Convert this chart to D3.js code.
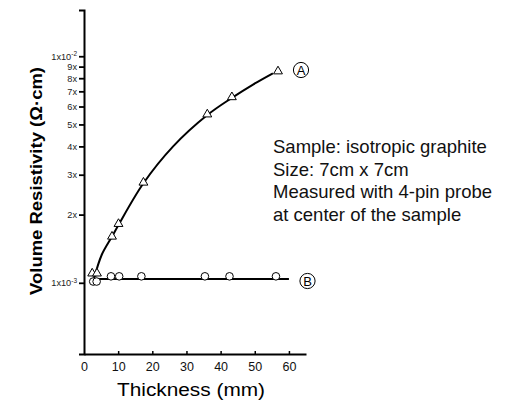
<!DOCTYPE html>
<html>
<head>
<meta charset="utf-8">
<script src="https://cdn.jsdelivr.net/npm/d3@7"></script>
<style>
  body { margin: 0; background: #fff; }
  svg { display: block; font-family: "Liberation Sans", Arial, sans-serif; }
</style>
</head>
<body>
<div id="chart"></div>
<script>
// thickness (mm) and volume resistivity (ohm.cm)
const thickA = [2.4, 3.8, 8.2, 10.1, 17.4, 36.1, 43.3, 56.8];
const resA = [1.1e-3, 1.1e-3, 1.6e-3, 1.82e-3, 2.77e-3, 5.54e-3, 6.6e-3, 8.58e-3];

const thickB = [2.7, 3.7, 7.9, 10.3, 16.8, 35.4, 42.6, 56.2];
const resB = [1.013e-3, 1.013e-3, 1.068e-3, 1.068e-3, 1.068e-3, 1.068e-3, 1.068e-3, 1.068e-3];

// fitted curves drawn in the picture
const fitAx = [2.9, 5.2, 8.2, 10.1, 17.4, 26.1, 36.1, 43.3, 49.6, 55.3];
const fitAy = [1.04e-3, 1.33e-3, 1.6e-3, 1.8e-3, 2.75e-3, 4.0e-3, 5.5e-3, 6.55e-3, 7.52e-3, 8.41e-3];
const fitBx = [3.2, 60];
const fitBy = [1.04e-3, 1.04e-3];

const xTicks = [0, 10, 20, 30, 40, 50, 60];
const yTicks = [1e-3, 2e-3, 3e-3, 4e-3, 5e-3, 6e-3, 7e-3, 8e-3, 9e-3, 1e-2];
const yTickLabels = ["1x10|-3", "2x", "3x", "4x", "5x", "6x", "7x", "8x", "9x", "1x10|-2"];

const notes = ["Sample: isotropic graphite", "Size: 7cm x 7cm",
    "Measured with 4-pin probe", "at center of the sample"];

const width = 513, height = 405;

const svg = d3.select("#chart").append("svg")
    .attr("width", width)
    .attr("height", height);

const x = d3.scaleLinear().domain([0, 65]).range([84, 306]);
const y = d3.scaleLog().domain([4.85e-4, 1.6e-2]).range([354, 10]);

// axes
const xAxis = svg.append("g")
    .attr("transform", `translate(0, ${y.range()[0]})`)
    .call(d3.axisBottom(x).tickValues(xTicks).tickSize(0).tickPadding(8).tickFormat(d3.format("d")));
xAxis.select(".domain").attr("stroke", "#000").attr("stroke-width", 2);
xAxis.selectAll("text").attr("font-size", 12.5).attr("fill", "#111")
    .attr("font-family", "Liberation Sans, Arial, sans-serif");
// small inward ticks
xAxis.selectAll(".tick").filter(d => d > 0).append("line")
    .attr("y1", 0).attr("y2", -3).attr("stroke", "#000").attr("stroke-width", 1.5);

const yAxis = svg.append("g")
    .attr("transform", `translate(${x.range()[0]}, 0)`)
    .call(d3.axisLeft(y).tickValues(yTicks).tickSize(5).tickPadding(2).tickFormat(() => ""));
yAxis.select(".domain").attr("stroke", "#000").attr("stroke-width", 2);
yAxis.selectAll(".tick line").attr("stroke-width", 1.8);
yAxis.selectAll(".tick text").each(function(d, i) {
    const t = d3.select(this)
        .attr("font-size", 9.2)
        .attr("fill", "#222")
        .attr("font-family", "Liberation Sans, Arial, sans-serif");
    const parts = yTickLabels[i].split("|");
    t.append("tspan").text(parts[0]);
    if (parts[1]) {
        t.append("tspan").attr("font-size", 6.5).attr("dy", -3.5).text(parts[1]);
    }
});

// fitted lines
svg.append("path")
    .datum(fitAx.map((v, i) => [v, fitAy[i]]))
    .attr("fill", "none").attr("stroke", "#000").attr("stroke-width", 2)
    .attr("d", d3.line().x(d => x(d[0])).y(d => y(d[1])).curve(d3.curveCatmullRom));
svg.append("path")
    .datum(fitBx.map((v, i) => [v, fitBy[i]]))
    .attr("fill", "none").attr("stroke", "#000").attr("stroke-width", 2)
    .attr("d", d3.line().x(d => x(d[0])).y(d => y(d[1])));

// markers
svg.selectAll(".tri")
    .data(thickA.map((v, i) => [v, resA[i]]))
    .join("path")
    .attr("class", "tri")
    .attr("transform", d => `translate(${x(d[0])}, ${y(d[1])})`)
    .attr("d", d3.symbol(d3.symbolTriangle, 34))
    .attr("fill", "#fff").attr("stroke", "#000").attr("stroke-width", 1);

svg.selectAll(".circ")
    .data(thickB.map((v, i) => [v, resB[i]]))
    .join("circle")
    .attr("class", "circ")
    .attr("cx", d => x(d[0])).attr("cy", d => y(d[1]))
    .attr("r", 3.8)
    .attr("fill", "#fff").attr("stroke", "#000").attr("stroke-width", 1);

// circled series labels
const tags = [{t: "A", cx: 301, cy: 70}, {t: "B", cx: 307.5, cy: 281}];
const tagG = svg.selectAll(".tag").data(tags).join("g")
    .attr("class", "tag")
    .attr("transform", d => `translate(${d.cx}, ${d.cy})`);
tagG.append("circle").attr("r", 7.6).attr("fill", "none").attr("stroke", "#000").attr("stroke-width", 1);
tagG.append("text").attr("text-anchor", "middle").attr("dy", 4.6)
    .attr("font-size", 13).text(d => d.t);

// annotation
svg.append("g").selectAll("text").data(notes).join("text")
    .attr("x", 273).attr("y", (d, i) => 153 + i * 22.7)
    .attr("font-size", 18.5).attr("fill", "#111")
    .text(d => d);

// axis titles
svg.append("text")
    .attr("x", 191).attr("y", 396)
    .attr("text-anchor", "middle")
    .attr("font-size", 18)
    .attr("textLength", 148).attr("lengthAdjust", "spacingAndGlyphs")
    .text("Thickness (mm)");

svg.append("text")
    .attr("transform", "translate(42, 181) rotate(-90)")
    .attr("text-anchor", "middle")
    .attr("font-size", 16.5).attr("font-weight", "bold")
    .attr("textLength", 228).attr("lengthAdjust", "spacingAndGlyphs")
    .text("Volume Resistivity (Ω·cm)");
</script>
</body>
</html>
